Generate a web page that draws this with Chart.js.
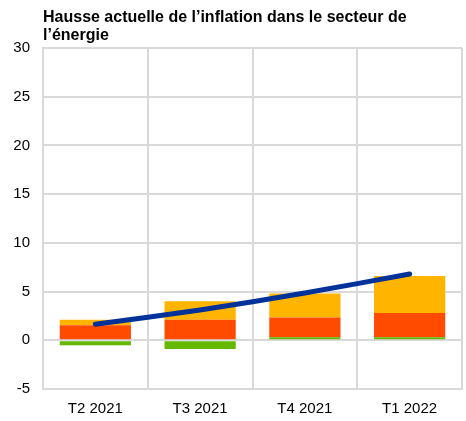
<!DOCTYPE html>
<html>
<head>
<meta charset="utf-8">
<script src="https://cdn.jsdelivr.net/npm/chart.js@4/dist/chart.umd.min.js"></script>
<style>
  html, body { margin: 0; padding: 0; background: #fff; }
  #wrap { width: 466px; height: 421px; }
</style>
</head>
<body>
<div id="wrap"><canvas id="chart" width="466" height="421"></canvas></div>
<script>
'use strict';

const LABELS = ['T2 2021', 'T3 2021', 'T4 2021', 'T1 2022'];
const GREEN = [-0.5, -0.9, 0.3, 0.3];
const RED = [1.55, 2.1, 2.05, 2.5];
const ORANGE = [0.55, 1.9, 2.45, 3.8];
const LINE = [1.65, 3.1, 4.85, 6.8];
const TITLE = ['Hausse actuelle de l\u2019inflation dans le secteur de', 'l\u2019\u00e9nergie'];

const FONT = 'Arial, "Liberation Sans", sans-serif';
const GRID = '#d9d9d9';

// Title drawn at a fixed spot above the plot
const titlePlugin = {
  id: 'topTitle',
  afterDraw(chart) {
    const ctx = chart.ctx;
    ctx.save();
    ctx.fillStyle = '#000';
    ctx.font = `bold 16px ${FONT}`;
    ctx.textBaseline = 'alphabetic';
    ctx.textAlign = 'left';
    ctx.fillText(TITLE[0], 43, 22);
    ctx.fillText(TITLE[1], 43, 40);
    ctx.restore();
  },
};

new Chart(document.getElementById('chart'), {
  data: {
    labels: LABELS,
    datasets: [
      {
        type: 'line',
        data: LINE,
        stack: 'line',
        borderColor: '#003299',
        borderWidth: 5,
        borderCapStyle: 'round',
        pointRadius: 0,
        tension: 0.2,
        order: 0,
      },
      { type: 'bar', data: GREEN, backgroundColor: '#65b800', stack: 'bars', order: 1 },
      { type: 'bar', data: RED, backgroundColor: '#ff4b00', stack: 'bars', order: 1 },
      { type: 'bar', data: ORANGE, backgroundColor: '#ffb400', stack: 'bars', order: 1 },
    ],
  },
  options: {
    responsive: false,
    animation: false,
    layout: { padding: { top: 48, right: 4, left: 0, bottom: 4 } },
    plugins: { legend: { display: false }, tooltip: { enabled: false } },
    datasets: { bar: { categoryPercentage: 1, barPercentage: 0.68 } },
    scales: {
      x: {
        stacked: true,
        afterFit(scale) { scale.height = 28; },
        grid: { color: GRID, lineWidth: 2, drawTicks: false, offset: true },
        border: { color: GRID, width: 2 },
        ticks: { color: '#000', font: { family: FONT, size: 15 }, padding: 11 },
      },
      y: {
        stacked: true,
        min: -5,
        max: 30,
        afterFit(scale) { scale.width = 43; },
        ticks: { stepSize: 5, color: '#000', font: { family: FONT, size: 15 }, padding: 13 },
        grid: { color: GRID, lineWidth: 2, drawTicks: false },
        border: { color: GRID, width: 2 },
      },
    },
  },
  plugins: [titlePlugin],
});
</script>
</body>
</html>
